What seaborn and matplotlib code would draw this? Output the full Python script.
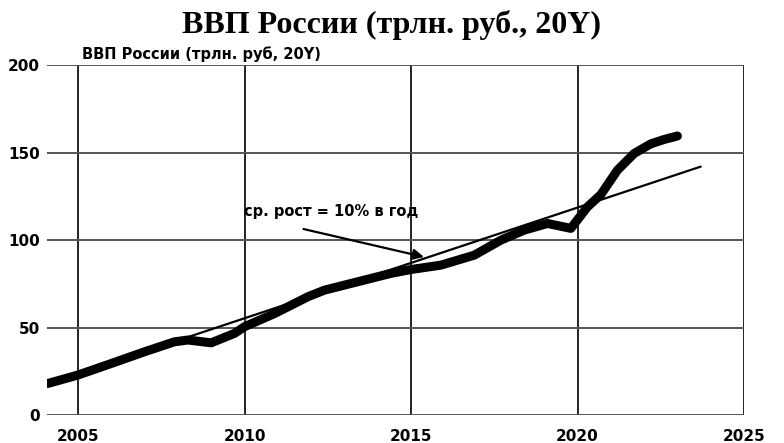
import matplotlib
matplotlib.use("Agg")
import matplotlib.pyplot as plt
import numpy as np
import pandas as pd
import seaborn as sns

# GDP curve (trillion rubles)
years = [2004.1, 2005, 2006, 2007, 2007.9, 2008.3, 2009, 2009.7, 2010, 2010.9, 2011.9,
         2012.4, 2013.4, 2014.4, 2015, 2015.9, 2016.9, 2017.7, 2018.4, 2019.1, 2019.8,
         2020.3, 2020.7, 2021.2, 2021.7, 2022.2, 2022.6, 2023]
gdp = [18.1, 22.9, 29.5, 36.2, 41.9, 42.9, 41.3, 46.7, 50.5, 58, 67.6,
       71.4, 76.2, 81, 83.2, 85.7, 91.4, 100, 105.7, 109.5, 106.7,
       119, 126, 140, 149.5, 155, 157.5, 159.5]

# average-growth trend line
trend_years = [2004.1, 2023.7]
trend_values = [18, 142]

x_ticks = [2005, 2010, 2015, 2020, 2025]
y_ticks = [0, 50, 100, 150, 200]

title = "ВВП России (трлн. руб., 20Y)"
subtitle = "ВВП России (трлн. руб, 20Y)"
note = "ср. рост = 10% в год"


def main():
    sns.set_theme()
    sns.set_style("white")
    plt.rcParams["font.family"] = ["DejaVu Sans"]
    plt.rcParams["text.color"] = "black"
    plt.rcParams["xtick.color"] = "black"
    plt.rcParams["ytick.color"] = "black"

    df = pd.DataFrame({"year": years, "gdp": gdp})
    trend = pd.DataFrame({"year": trend_years, "gdp": trend_values})

    fig = plt.figure(figsize=(7.84, 4.43), dpi=100)
    ax = fig.add_axes([0.06, 0.063, 0.889, 0.79])

    sns.lineplot(data=trend, x="year", y="gdp", ax=ax, color="black", lw=1.6)
    sns.lineplot(data=df, x="year", y="gdp", ax=ax, color="black", lw=6.5,
                 solid_capstyle="round", solid_joinstyle="round")

    ax.set_xlim(2004.07, 2025)
    ax.set_ylim(0, 200)
    ax.set_xticks(x_ticks)
    ax.set_yticks(y_ticks)
    ax.set_xlabel("")
    ax.set_ylabel("")
    ax.tick_params(length=0, labelsize=11, labelcolor="black")
    ax.tick_params(axis="y", pad=5)
    ax.tick_params(axis="x", pad=10)
    for lab in ax.get_xticklabels() + ax.get_yticklabels():
        lab.set_fontweight("bold")

    for v in x_ticks:
        ax.axvline(v, color="#222222", lw=1.4, zorder=0)
    for v in y_ticks:
        ax.axhline(v, color="#555555", lw=1.4, zorder=0)
    for s in ax.spines.values():
        s.set_visible(False)

    ax.annotate("", xy=(2015.47, 90), xytext=(2011.69, 106.7),
                arrowprops=dict(arrowstyle="-|>", color="black", lw=1.6,
                                mutation_scale=16))
    ax.text(2009.97, 116.2, note, fontsize=10.5, fontweight="bold", va="center", ha="left",
            color="black")

    fig.text(0.5, 0.925, title, fontsize=23, fontweight="bold", family="Liberation Serif",
             ha="center", va="baseline", color="black")
    fig.text(0.1046, 0.867, subtitle, fontsize=10.5, fontweight="bold", va="baseline",
             ha="left", color="black")

    fig.savefig("out.png", dpi=100)


if __name__ == "__main__":
    main()
